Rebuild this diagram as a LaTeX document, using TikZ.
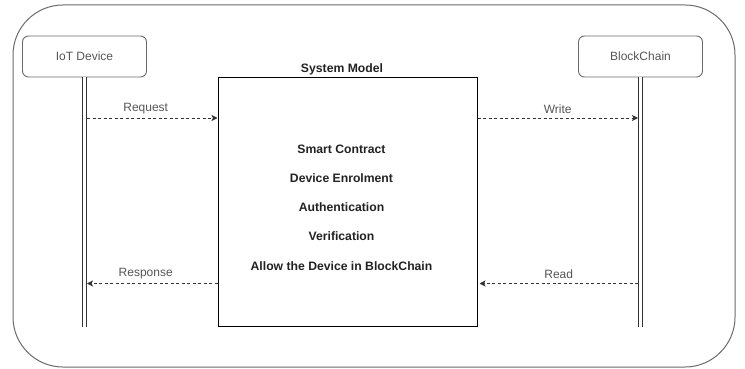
\documentclass[tikz,border=0pt]{standalone}
\usepackage{fontspec}
\setmainfont{Liberation Sans}
\usetikzlibrary{arrows.meta}
\definecolor{framegray}{HTML}{6A6A6A}
\definecolor{linegray}{HTML}{333333}
\definecolor{labelgray}{HTML}{555555}
\definecolor{boxtext}{HTML}{222222}
\tikzset{
  frame/.style={draw=framegray, line width=1pt, rounded corners=50pt},
  actor/.style={draw=framegray, line width=0.9pt, rounded corners=6pt, minimum width=124pt, minimum height=41pt, inner sep=0pt, text=labelgray, font=\fontsize{12}{14}\selectfont},
  sysbox/.style={draw=black, line width=1pt, minimum width=259pt, minimum height=248pt, inner sep=0pt},
  life/.style={draw=linegray, line width=0.9pt, double=white, double distance=3.6pt},
  msg/.style={draw=linegray, line width=0.9pt, dash pattern=on 3pt off 2.5pt, -{Stealth[length=6pt,width=6pt,inset=1.5pt]}},
  lbl/.style={text=labelgray, font=\fontsize{12}{14}\selectfont, inner sep=1pt},
}
\begin{document}
\begin{tikzpicture}[x=1pt,y=-1pt]
\useasboundingbox (0,0) rectangle (745,369);
\draw[frame] (13,5) rectangle (735,367);

\node[actor] (iot) at (84.5,56.5) {IoT Device};
\node[actor] (bc) at (640.5,56.5) {BlockChain};
\node[sysbox] (sys) at (347.5,202) {};
\node[font=\bfseries\fontsize{12.2}{14}\selectfont, text=boxtext, anchor=south, inner sep=2pt, xshift=-5.5pt] (title) at (sys.north) {System Model};
\node[font=\bfseries\fontsize{12.2}{29.2}\selectfont, text=boxtext, align=center] (items) at (341.5,207.5)
  {Smart Contract\\Device Enrolment\\Authentication\\Verification\\Allow the Device in BlockChain};

\coordinate (iotend) at (iot.south |- sys.south);
\coordinate (bcend) at (bc.south |- sys.south);
\draw[life] (iot.south) -- (iotend);
\draw[life] (bc.south) -- (bcend);

% message anchors
\coordinate (reqA) at ([xshift=2.5pt]iot.south |- 0,118);
\coordinate (reqB) at (sys.west |- 0,118);
\coordinate (wrA) at (sys.east |- 0,118);
\coordinate (wrB) at ([xshift=-2.5pt]bc.south |- 0,118);
\coordinate (resA) at (sys.west |- 0,283.5);
\coordinate (resB) at ([xshift=2.5pt]iot.south |- 0,283.5);
\coordinate (rdA) at ([xshift=-2.5pt]bc.south |- 0,283.5);
\coordinate (rdB) at ([xshift=2pt]sys.east |- 0,283.5);

\draw[msg] (reqA) -- node[lbl, above=3pt, pos=0.45] {Request} (reqB);
\draw[msg] (wrA) -- node[lbl, above=3pt] {Write} (wrB);
\draw[msg] (resA) -- node[lbl, above=3pt, pos=0.55] {Response} (resB);
\draw[msg] (rdA) -- node[lbl, above=3pt] {Read} (rdB);
\end{tikzpicture}
\end{document}
